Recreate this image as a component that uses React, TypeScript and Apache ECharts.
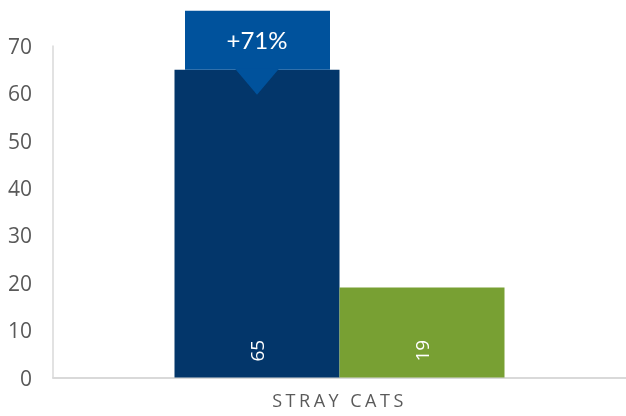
import React, { useEffect, useRef } from "react";
import * as echarts from "echarts";

const categories = ["STRAY CATS"];
const seriesDark = [65];
const seriesGreen = [19];
const calloutLabel = "+71%";
const yMin = 0;
const yMax = 70;
const yInterval = 10;

const FONT = "'Open Sans', 'Noto Sans', sans-serif";
const BAR_W = 165;

export default function App() {
  const ref = useRef<HTMLDivElement>(null);

  useEffect(() => {
    if (!ref.current) return;
    const chart = echarts.init(ref.current, null, { renderer: "svg" });
    chart.setOption({
      animation: false,
      grid: { left: 53, width: 578, top: 46, bottom: 38.5, containLabel: false },
      xAxis: {
        type: "category",
        data: categories,
        axisLine: { show: true, lineStyle: { color: "#d9d9d9", width: 2 } },
        axisTick: { show: false },
        axisLabel: {
          color: "#5a5a5a",
          fontSize: 18,
          fontFamily: FONT,
          margin: 13,
        },
      },
      yAxis: {
        type: "value",
        min: yMin,
        max: yMax,
        interval: yInterval,
        axisLine: { show: true, lineStyle: { color: "#d9d9d9", width: 1.5 } },
        axisTick: { show: false },
        splitLine: { show: false },
        axisLabel: {
          color: "#595959",
          fontSize: 21,
          fontFamily: FONT,
          margin: 21,
        },
      },
      series: [
        {
          type: "bar",
          data: seriesDark,
          barWidth: BAR_W,
          barGap: "0%",
          itemStyle: { color: "#03366A" },
          z: 2,
          label: {
            show: true,
            position: "insideBottom",
            rotate: 90,
            align: "left",
            verticalAlign: "middle",
            distance: 16,
            color: "#ffffff",
            fontSize: 19,
            fontFamily: FONT,
          },
        },
        {
          type: "bar",
          data: seriesGreen,
          barWidth: BAR_W,
          barGap: "0%",
          itemStyle: { color: "#78A033" },
          z: 2,
          label: {
            show: true,
            position: "insideBottom",
            rotate: 90,
            align: "left",
            verticalAlign: "middle",
            distance: 16,
            color: "#ffffff",
            fontSize: 19,
            fontFamily: FONT,
          },
        },
        {
          type: "custom",
          z: 10,
          clip: false,
          silent: true,
          data: [[0, seriesDark[0]]],
          encode: { x: 0, y: 1 },
          renderItem: (params: any, api: any) => {
            const pt = api.coord([api.value(0), api.value(1)]);
            const cx = pt[0] - BAR_W / 2;
            const top = pt[1];
            return {
              type: "group",
              children: [
                {
                  type: "rect",
                  shape: { x: cx - 72, y: top - 59, width: 145, height: 59 },
                  style: { fill: "#00529C" },
                },
                {
                  type: "polygon",
                  shape: {
                    points: [
                      [cx - 22, top - 1],
                      [cx + 22, top - 1],
                      [cx, top + 25],
                    ],
                  },
                  style: { fill: "#00529C" },
                },
                {
                  type: "text",
                  x: cx,
                  y: top - 30,
                  style: {
                    text: calloutLabel,
                    fill: "#ffffff",
                    fontSize: 24,
                    fontFamily: "Lato, 'Open Sans', sans-serif",
                    align: "center",
                    verticalAlign: "middle",
                  },
                },
              ],
            };
          },
        },
      ],
    });
    return () => chart.dispose();
  }, []);

  return (
    <>
      <style>{`text[fill="#5a5a5a"] { letter-spacing: 3.5px; }`}</style>
      <div
        ref={ref}
        style={{ position: "fixed", left: 0, top: 0, width: 626, height: 416 }}
      />
    </>
  );
}
